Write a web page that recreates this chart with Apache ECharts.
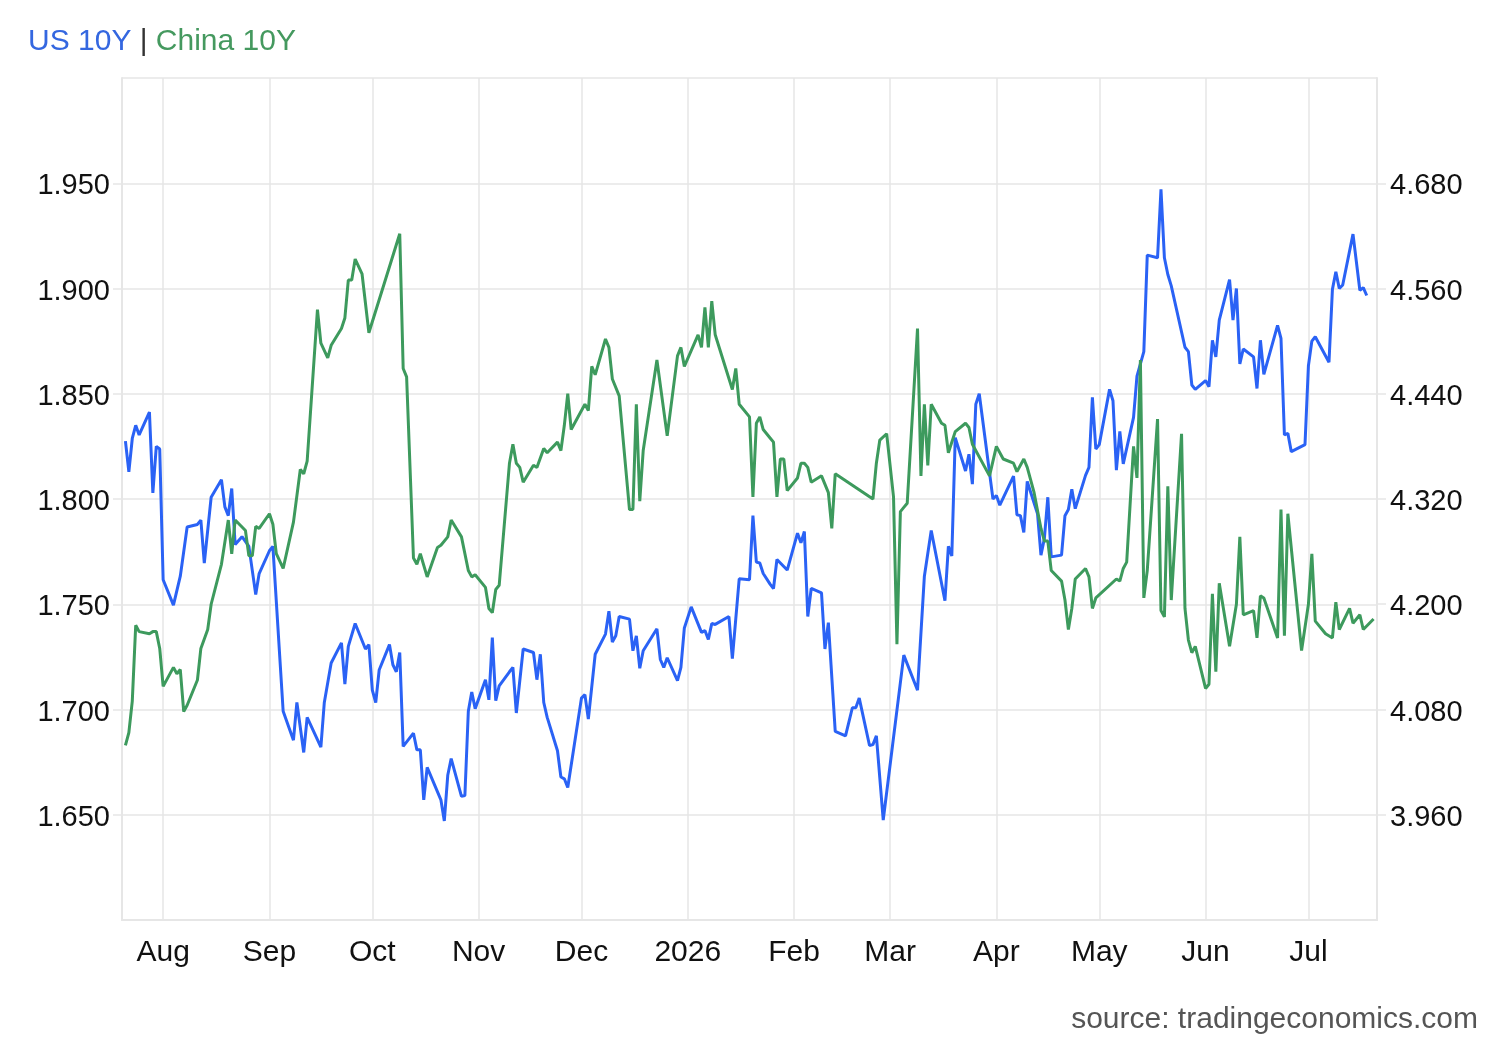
<!DOCTYPE html>
<html>
<head>
<meta charset="utf-8">
<title>US 10Y | China 10Y</title>
<script src="https://cdn.jsdelivr.net/npm/echarts@6.0.0/dist/echarts.min.js"></script>
<style>
  html, body { margin: 0; padding: 0; background: #fff; }
  #chart { width: 1500px; height: 1040px; }
</style>
</head>
<body>
<div id="chart"></div>
<script>
// US 10Y (right axis)
const usDates = [
  '2025-07-21','2025-07-22','2025-07-23','2025-07-24','2025-07-25','2025-07-28','2025-07-29','2025-07-30','2025-07-31',
  '2025-08-01','2025-08-04','2025-08-06','2025-08-08','2025-08-11','2025-08-12','2025-08-13','2025-08-15','2025-08-18',
  '2025-08-19','2025-08-20','2025-08-21','2025-08-22','2025-08-24','2025-08-26','2025-08-28','2025-08-29',
  '2025-09-01','2025-09-02','2025-09-05','2025-09-08','2025-09-09','2025-09-11','2025-09-12','2025-09-16','2025-09-17',
  '2025-09-19','2025-09-22','2025-09-23','2025-09-24','2025-09-26','2025-09-29','2025-09-30',
  '2025-10-01','2025-10-02','2025-10-03','2025-10-06','2025-10-07','2025-10-08','2025-10-09','2025-10-10','2025-10-13',
  '2025-10-14','2025-10-15','2025-10-16','2025-10-17','2025-10-21','2025-10-22','2025-10-23','2025-10-24','2025-10-27',
  '2025-10-28','2025-10-29','2025-10-30','2025-10-31',
  '2025-11-03','2025-11-04','2025-11-05','2025-11-06','2025-11-07','2025-11-10','2025-11-11','2025-11-12','2025-11-14',
  '2025-11-17','2025-11-18','2025-11-19','2025-11-20','2025-11-21','2025-11-24','2025-11-25','2025-11-26','2025-11-27',
  '2025-12-01','2025-12-02','2025-12-03','2025-12-05','2025-12-08','2025-12-09','2025-12-10','2025-12-11','2025-12-12',
  '2025-12-15','2025-12-16','2025-12-17','2025-12-18','2025-12-19','2025-12-23','2025-12-24','2025-12-25','2025-12-26',
  '2025-12-29','2025-12-30','2025-12-31',
  '2026-01-02','2026-01-05','2026-01-06','2026-01-07','2026-01-08','2026-01-09','2026-01-13','2026-01-14','2026-01-16',
  '2026-01-19','2026-01-20','2026-01-21','2026-01-22','2026-01-23','2026-01-25','2026-01-26','2026-01-27','2026-01-30',
  '2026-02-02','2026-02-03','2026-02-04','2026-02-05','2026-02-06','2026-02-09','2026-02-10','2026-02-11','2026-02-13',
  '2026-02-16','2026-02-18','2026-02-19','2026-02-20','2026-02-23','2026-02-24','2026-02-25','2026-02-27',
  '2026-03-05','2026-03-09','2026-03-11','2026-03-13','2026-03-17','2026-03-18','2026-03-19','2026-03-20','2026-03-23',
  '2026-03-24','2026-03-25','2026-03-26','2026-03-27','2026-03-31',
  '2026-04-01','2026-04-02','2026-04-06','2026-04-07','2026-04-08','2026-04-09','2026-04-10','2026-04-13','2026-04-14',
  '2026-04-15','2026-04-16','2026-04-17','2026-04-20','2026-04-21','2026-04-22','2026-04-23','2026-04-24','2026-04-27',
  '2026-04-28','2026-04-29','2026-04-30',
  '2026-05-01','2026-05-04','2026-05-05','2026-05-06','2026-05-07','2026-05-08','2026-05-11','2026-05-12','2026-05-14',
  '2026-05-15','2026-05-18','2026-05-19','2026-05-20','2026-05-21','2026-05-22','2026-05-26','2026-05-27','2026-05-28',
  '2026-05-29',
  '2026-06-01','2026-06-02','2026-06-03','2026-06-04','2026-06-05','2026-06-08','2026-06-09','2026-06-10','2026-06-11',
  '2026-06-12','2026-06-15','2026-06-16','2026-06-17','2026-06-18','2026-06-22','2026-06-23','2026-06-24','2026-06-25',
  '2026-06-26','2026-06-30',
  '2026-07-01','2026-07-02','2026-07-03','2026-07-07','2026-07-08','2026-07-09','2026-07-10','2026-07-11','2026-07-14',
  '2026-07-16','2026-07-17','2026-07-18'
]
const usYield = [
  4.386, 4.351, 4.389, 4.404, 4.393, 4.419, 4.327, 4.380, 4.377,
  4.228, 4.199, 4.232, 4.288, 4.291, 4.296, 4.247, 4.322, 4.342,
  4.311, 4.301, 4.332, 4.268, 4.277, 4.266, 4.211, 4.235,
  4.261, 4.266, 4.078, 4.045, 4.088, 4.031, 4.071, 4.037, 4.088,
  4.133, 4.156, 4.109, 4.152, 4.178, 4.149, 4.154,
  4.102, 4.088, 4.125, 4.154, 4.131, 4.123, 4.145, 4.038, 4.053,
  4.034, 4.034, 3.977, 4.014, 3.977, 3.953, 4.005, 4.024, 3.981,
  3.982, 4.078, 4.100, 4.081,
  4.114, 4.091, 4.162, 4.090, 4.107, 4.123, 4.128, 4.076, 4.149,
  4.145, 4.114, 4.143, 4.088, 4.071, 4.033, 4.003, 4.001, 3.991,
  4.093, 4.097, 4.069, 4.143, 4.166, 4.192, 4.157, 4.164, 4.186,
  4.183, 4.147, 4.164, 4.127, 4.147, 4.172, 4.137, 4.128, 4.139,
  4.113, 4.128, 4.173,
  4.197, 4.168, 4.170, 4.160, 4.178, 4.177, 4.186, 4.138, 4.229,
  4.228, 4.301, 4.248, 4.247, 4.235, 4.223, 4.218, 4.251, 4.239,
  4.281, 4.270, 4.283, 4.186, 4.218, 4.213, 4.149, 4.179, 4.055,
  4.050, 4.082, 4.082, 4.093, 4.039, 4.040, 4.050, 3.954,
  4.142, 4.102, 4.232, 4.284, 4.204, 4.266, 4.255, 4.390, 4.352,
  4.371, 4.337, 4.428, 4.440, 4.320,
  4.324, 4.313, 4.346, 4.302, 4.301, 4.282, 4.340, 4.303, 4.256,
  4.275, 4.322, 4.254, 4.256, 4.301, 4.308, 4.331, 4.309, 4.347,
  4.356, 4.436, 4.377,
  4.382, 4.445, 4.432, 4.353, 4.397, 4.360, 4.413, 4.460, 4.488,
  4.598, 4.595, 4.673, 4.595, 4.576, 4.563, 4.493, 4.488, 4.450,
  4.445,
  4.455, 4.448, 4.501, 4.482, 4.524, 4.570, 4.524, 4.560, 4.474,
  4.491, 4.482, 4.446, 4.501, 4.462, 4.518, 4.503, 4.393, 4.395,
  4.374, 4.382,
  4.472, 4.500, 4.505, 4.476, 4.559, 4.579, 4.560, 4.564, 4.622,
  4.558, 4.561, 4.552
]

// China 10Y (left axis)
const cnDates = [
  '2025-07-21','2025-07-22','2025-07-23','2025-07-24','2025-07-25','2025-07-28','2025-07-29','2025-07-30','2025-07-31',
  '2025-08-01','2025-08-04','2025-08-05','2025-08-06','2025-08-07','2025-08-08','2025-08-11','2025-08-12','2025-08-14',
  '2025-08-15','2025-08-18','2025-08-20','2025-08-21','2025-08-22','2025-08-25','2025-08-26','2025-08-27','2025-08-28',
  '2025-08-29',
  '2025-09-01','2025-09-02','2025-09-03','2025-09-05','2025-09-08','2025-09-10','2025-09-11','2025-09-12','2025-09-15',
  '2025-09-16','2025-09-18','2025-09-19','2025-09-22','2025-09-23','2025-09-24','2025-09-25','2025-09-26','2025-09-28',
  '2025-09-30',
  '2025-10-09','2025-10-10','2025-10-11','2025-10-13','2025-10-14','2025-10-15','2025-10-17','2025-10-20','2025-10-21',
  '2025-10-23','2025-10-24','2025-10-27','2025-10-29','2025-10-30','2025-10-31',
  '2025-11-03','2025-11-04','2025-11-05','2025-11-06','2025-11-07','2025-11-10','2025-11-11','2025-11-12','2025-11-13',
  '2025-11-14','2025-11-17','2025-11-18','2025-11-20','2025-11-21','2025-11-24','2025-11-25','2025-11-26','2025-11-27',
  '2025-11-28',
  '2025-12-02','2025-12-03','2025-12-04','2025-12-05','2025-12-08','2025-12-09','2025-12-10','2025-12-12','2025-12-15',
  '2025-12-16','2025-12-17','2025-12-18','2025-12-19','2025-12-23','2025-12-26','2025-12-29','2025-12-30','2025-12-31',
  '2026-01-04','2026-01-05','2026-01-06','2026-01-07','2026-01-08','2026-01-09','2026-01-14','2026-01-15','2026-01-16',
  '2026-01-19','2026-01-20','2026-01-21','2026-01-22','2026-01-23','2026-01-25','2026-01-26','2026-01-27','2026-01-28',
  '2026-01-29','2026-01-30',
  '2026-02-02','2026-02-03','2026-02-04','2026-02-05','2026-02-06','2026-02-09','2026-02-11','2026-02-12','2026-02-13',
  '2026-02-24','2026-02-25','2026-02-26','2026-02-28',
  '2026-03-02','2026-03-03','2026-03-04','2026-03-05','2026-03-06','2026-03-09','2026-03-10','2026-03-11','2026-03-12',
  '2026-03-13','2026-03-16','2026-03-17','2026-03-18','2026-03-20','2026-03-23','2026-03-24','2026-03-25','2026-03-30',
  '2026-04-01','2026-04-03','2026-04-06','2026-04-07','2026-04-09','2026-04-10','2026-04-12','2026-04-14','2026-04-15',
  '2026-04-16','2026-04-17','2026-04-20','2026-04-21','2026-04-22','2026-04-23','2026-04-24','2026-04-27','2026-04-28',
  '2026-04-29','2026-04-30',
  '2026-05-06','2026-05-07','2026-05-08','2026-05-09','2026-05-11','2026-05-12','2026-05-13','2026-05-14','2026-05-15',
  '2026-05-18','2026-05-19','2026-05-20','2026-05-21','2026-05-22','2026-05-25','2026-05-26','2026-05-27','2026-05-28',
  '2026-05-29',
  '2026-06-01','2026-06-02','2026-06-03','2026-06-04','2026-06-05','2026-06-08','2026-06-10','2026-06-11','2026-06-12',
  '2026-06-15','2026-06-16','2026-06-17','2026-06-18','2026-06-22','2026-06-23','2026-06-24','2026-06-25','2026-06-29',
  '2026-07-01','2026-07-02','2026-07-03','2026-07-06','2026-07-08','2026-07-09','2026-07-10','2026-07-13','2026-07-14',
  '2026-07-16','2026-07-17','2026-07-20'
]
const cnYield = [
  1.683, 1.689, 1.704, 1.740, 1.737, 1.736, 1.737, 1.737, 1.729,
  1.711, 1.720, 1.717, 1.719, 1.699, 1.702, 1.714, 1.729, 1.738,
  1.750, 1.769, 1.790, 1.774, 1.790, 1.785, 1.773, 1.773, 1.787,
  1.786,
  1.793, 1.788, 1.774, 1.767, 1.789, 1.814, 1.812, 1.818, 1.890,
  1.874, 1.867, 1.873, 1.881, 1.886, 1.904, 1.904, 1.914, 1.907,
  1.879,
  1.926, 1.862, 1.858, 1.772, 1.769, 1.774, 1.763, 1.777, 1.778,
  1.782, 1.790, 1.782, 1.766, 1.763, 1.764,
  1.758, 1.748, 1.746, 1.757, 1.759, 1.817, 1.826, 1.817, 1.815,
  1.808, 1.816, 1.815, 1.824, 1.822, 1.827, 1.823, 1.835, 1.850,
  1.833,
  1.845, 1.842, 1.863, 1.859, 1.876, 1.872, 1.857, 1.849, 1.795,
  1.795, 1.845, 1.799, 1.823, 1.866, 1.830, 1.868, 1.872, 1.863,
  1.878, 1.872, 1.891, 1.872, 1.894, 1.878, 1.852, 1.862, 1.845,
  1.839, 1.801, 1.836, 1.839, 1.833, 1.829, 1.827, 1.801, 1.819,
  1.819, 1.804,
  1.810, 1.817, 1.817, 1.815, 1.808, 1.811, 1.803, 1.786, 1.812,
  1.800, 1.817, 1.828, 1.831,
  1.801, 1.731, 1.794, 1.796, 1.798, 1.881, 1.811, 1.845, 1.816,
  1.845, 1.836, 1.835, 1.822, 1.832, 1.836, 1.834, 1.826, 1.811,
  1.825, 1.819, 1.817, 1.813, 1.819, 1.815, 1.803, 1.786, 1.780,
  1.780, 1.766, 1.761, 1.752, 1.738, 1.748, 1.762, 1.767, 1.763,
  1.748, 1.753,
  1.762, 1.761, 1.767, 1.770, 1.825, 1.810, 1.866, 1.753, 1.766,
  1.838, 1.747, 1.744, 1.806, 1.752, 1.831, 1.748, 1.733, 1.727,
  1.730,
  1.710, 1.712, 1.755, 1.718, 1.760, 1.730, 1.750, 1.782, 1.745,
  1.747, 1.734, 1.754, 1.753, 1.734, 1.795, 1.735, 1.793, 1.728,
  1.750, 1.774, 1.742, 1.736, 1.734, 1.751, 1.738, 1.748, 1.741,
  1.745, 1.738, 1.743
]

const monthNames = ['Jan','Feb','Mar','Apr','May','Jun','Jul','Aug','Sep','Oct','Nov','Dec']

const usColor = '#2a62f5'
const cnColor = '#3d9a5d'
const gridColor = '#e6e6e6'
const font = 'Liberation Sans, Arial, sans-serif'

// y labels are nudged down a little with a rich-text padding
const yLabelRich = { v: { color: '#111', fontSize: 29, fontFamily: font, padding: [6, 0, 0, 0] } }

const chart = echarts.init(document.getElementById('chart'), null, { renderer: 'canvas' })

chart.setOption({
  animation: false,
  backgroundColor: '#fff',
  textStyle: { fontFamily: font },
  title: [{
    text: '{us|US 10Y} {sep||} {cn|China 10Y}',
    left: 28,
    top: 27,
    padding: 0,
    textStyle: {
      fontSize: 30,
      fontWeight: 'normal',
      rich: {
        us: { color: '#3467e0', fontSize: 30, fontFamily: font },
        sep: { color: '#333', fontSize: 30, fontFamily: font },
        cn: { color: '#45995f', fontSize: 30, fontFamily: font }
      }
    }
  }, {
    text: 'source: tradingeconomics.com',
    right: 22,
    top: 1005,
    padding: 0,
    textStyle: { color: '#555', fontSize: 30, fontWeight: 'normal', fontFamily: font }
  }],
  grid: { left: 122, right: 123, top: 78, bottom: 120 },
  xAxis: {
    type: 'time',
    min: '2025-07-20',
    max: '2026-07-21',
    splitNumber: 12,
    axisLine: { show: true, lineStyle: { color: gridColor, width: 2 } },
    axisTick: { show: false },
    splitLine: { show: true, lineStyle: { color: gridColor, width: 1.5 } },
    axisLabel: {
      color: '#111',
      fontSize: 30,
      margin: 18,
      hideOverlap: false,
      formatter: function (val) {
        const d = new Date(val)
        return d.getMonth() === 0 ? String(d.getFullYear()) : monthNames[d.getMonth()]
      }
    }
  },
  yAxis: [{
    type: 'value',
    position: 'left',
    min: 1.6,
    max: 2.0,
    interval: 0.05,
    axisLine: { show: true, lineStyle: { color: gridColor, width: 2 } },
    axisTick: { show: true, length: 9, lineStyle: { color: gridColor, width: 1.5 } },
    splitLine: { show: true, lineStyle: { color: gridColor, width: 1.5 } },
    axisLabel: {
      margin: 12,
      showMinLabel: false,
      showMaxLabel: false,
      formatter: v => '{v|' + v.toFixed(3) + '}',
      rich: yLabelRich
    }
  }, {
    type: 'value',
    position: 'right',
    min: 3.84,
    max: 4.80,
    interval: 0.12,
    axisLine: { show: true, lineStyle: { color: gridColor, width: 2 } },
    axisTick: { show: true, length: 9, lineStyle: { color: gridColor, width: 1.5 } },
    splitLine: { show: false },
    axisLabel: {
      margin: 13,
      showMinLabel: false,
      showMaxLabel: false,
      formatter: v => '{v|' + v.toFixed(3) + '}',
      rich: yLabelRich
    }
  }],
  series: [{
    name: 'US 10Y',
    type: 'line',
    yAxisIndex: 1,
    showSymbol: false,
    data: usDates.map((d, i) => [d, usYield[i]]),
    lineStyle: { color: usColor, width: 3 },
    itemStyle: { color: usColor }
  }, {
    name: 'China 10Y',
    type: 'line',
    yAxisIndex: 0,
    showSymbol: false,
    data: cnDates.map((d, i) => [d, cnYield[i]]),
    lineStyle: { color: cnColor, width: 3 },
    itemStyle: { color: cnColor }
  }]
})
</script>
</body>
</html>
